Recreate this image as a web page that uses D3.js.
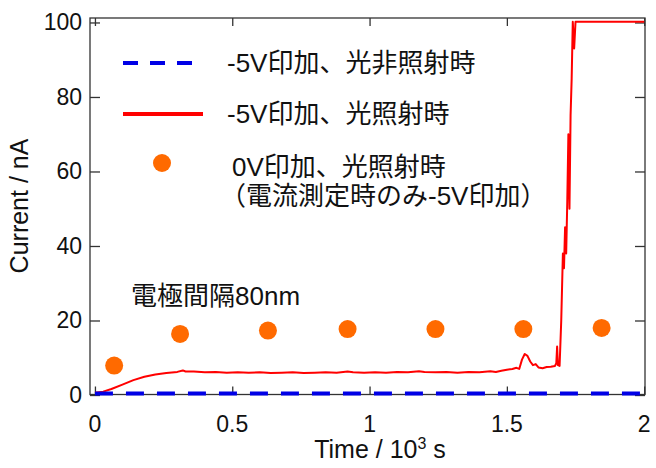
<!DOCTYPE html>
<html>
<head>
<meta charset="utf-8">
<script src="https://cdn.jsdelivr.net/npm/d3@7"></script>
<style>
  body { margin: 0; background: #fff; }
  text { font-family: "Liberation Sans", Arial, "Noto Sans CJK JP", sans-serif; fill: #111; }
</style>
</head>
<body>
<div id="chart"></div>
<script>
// time in 10^3 s, current in nA
var darkTime = [0, 2.0];
var darkCurrent = [0.4, 0.4];

var lightTime = [0.00, 0.03, 0.06, 0.10, 0.14, 0.18, 0.22, 0.26, 0.30, 0.32, 0.33, 0.36, 0.40, 0.44, 0.48,
	0.52, 0.56, 0.60, 0.64, 0.68, 0.72, 0.76, 0.80, 0.84, 0.88, 0.92, 0.94, 0.98, 1.02, 1.06, 1.10,
	1.14, 1.18, 1.20, 1.24, 1.28, 1.32, 1.36, 1.40, 1.44, 1.46, 1.48, 1.50, 1.52, 1.535, 1.545, 1.555,
	1.565, 1.575, 1.585, 1.595, 1.605, 1.615, 1.63, 1.645, 1.66, 1.675, 1.68, 1.683, 1.686, 1.692,
	1.698, 1.704, 1.708, 1.712, 1.716, 1.72, 1.724, 1.728, 1.732, 1.736, 1.74, 1.745, 1.75, 2.0];
var lightCurrent = [0.6, 0.9, 1.6, 2.8, 4.0, 4.9, 5.5, 5.9, 6.2, 6.6, 6.3, 6.3, 6.1, 6.2, 6.0,
	6.1, 6.0, 6.1, 5.9, 6.0, 6.1, 5.9, 6.0, 6.1, 6.0, 6.3, 6.1, 6.0, 6.1, 6.0, 6.2,
	6.1, 6.4, 6.2, 6.1, 6.2, 6.0, 6.2, 6.1, 6.4, 6.2, 6.5, 6.8, 7.0, 7.3, 7.0, 9.5,
	11.0, 10.5, 9.0, 8.0, 8.3, 7.4, 7.2, 7.5, 7.6, 7.8, 8.5, 13.0, 8.0, 7.8,
	20, 38, 34, 45, 38, 52, 70, 50, 75, 85, 100.2, 93, 100.2, 100.2];

var pulseTime = [0.07, 0.31, 0.63, 0.92, 1.24, 1.56, 1.845];
var pulseCurrent = [7.9, 16.4, 17.3, 17.7, 17.7, 17.7, 18.0];

var xTicks = [0, 0.5, 1, 1.5, 2];
var yTicks = [0, 20, 40, 60, 80, 100];

var legendLabels = ["-5V印加、光非照射時", "-5V印加、光照射時", "0V印加、光照射時", "（電流測定時のみ-5V印加）"];
var noteLabel = "電極間隔80nm";

var width = 656, height = 468;
var plotLeft = 90, plotRight = 645, plotTop = 18, plotBottom = 394.5;

var svg = d3.select("#chart").append("svg")
	.attr("width", width)
	.attr("height", height);

var x = d3.scaleLinear().domain([-0.018, 2.003]).range([plotLeft, plotRight]);
var y = d3.scaleLinear().domain([0, 101.2]).range([395, plotTop]);

// frame
svg.append("rect")
	.attr("x", plotLeft).attr("y", plotTop)
	.attr("width", plotRight - plotLeft).attr("height", plotBottom - plotTop)
	.attr("fill", "none").attr("stroke", "#333").attr("stroke-width", 1.3);

// axes with inward ticks
svg.append("g").attr("transform", "translate(0," + plotBottom + ")")
	.call(d3.axisBottom(x).tickValues(xTicks).tickSizeInner(-8).tickSizeOuter(0).tickFormat(""))
	.call(g => g.select(".domain").remove());
svg.append("g").attr("transform", "translate(0," + plotTop + ")")
	.call(d3.axisTop(x).tickValues(xTicks).tickSizeInner(-8).tickSizeOuter(0).tickFormat(""))
	.call(g => g.select(".domain").remove());
svg.append("g").attr("transform", "translate(" + plotLeft + ",0)")
	.call(d3.axisLeft(y).tickValues(yTicks).tickSizeInner(-10).tickSizeOuter(0).tickFormat(""))
	.call(g => g.select(".domain").remove());
svg.append("g").attr("transform", "translate(" + plotRight + ",0)")
	.call(d3.axisRight(y).tickValues(yTicks).tickSizeInner(-10).tickSizeOuter(0).tickFormat(""))
	.call(g => g.select(".domain").remove());
svg.selectAll(".tick line").attr("stroke", "#333").attr("stroke-width", 1.3);

// tick labels
svg.selectAll(".xlab")
	.data(xTicks)
	.enter().append("text")
	.attr("x", d => x(d))
	.attr("y", 432)
	.attr("text-anchor", "middle")
	.style("font-size", "23px")
	.text(d => d);

svg.selectAll(".ylab")
	.data(yTicks)
	.enter().append("text")
	.attr("x", 82)
	.attr("y", d => y(d) + 8)
	.attr("text-anchor", "end")
	.style("font-size", "23px")
	.text(d => d);

// axis titles
var xt = svg.append("text")
	.attr("x", 380).attr("y", 458)
	.attr("text-anchor", "middle")
	.style("font-size", "25px");
xt.append("tspan").text("Time / 10");
xt.append("tspan").attr("dy", -9).style("font-size", "16px").text("3");
xt.append("tspan").attr("dy", 9).text(" s");

svg.append("text")
	.attr("transform", "translate(28,206) rotate(-90)")
	.attr("text-anchor", "middle")
	.style("font-size", "25px")
	.text("Current / nA");

// data
var line = d3.line().x(d => x(d[0])).y(d => y(d[1]));

svg.append("path")
	.datum(lightTime.map((t, i) => [t, lightCurrent[i]]))
	.attr("d", line)
	.attr("fill", "none")
	.attr("stroke", "#ff0000")
	.attr("stroke-width", 2)
	.attr("stroke-linejoin", "round");

svg.append("path")
	.datum(darkTime.map((t, i) => [t, darkCurrent[i]]))
	.attr("d", line)
	.attr("fill", "none")
	.attr("stroke", "#0000e6")
	.attr("stroke-width", 4)
	.attr("stroke-dasharray", "18,13");

svg.selectAll(".pulse")
	.data(pulseTime.map((t, i) => [t, pulseCurrent[i]]))
	.enter().append("circle")
	.attr("cx", d => x(d[0]))
	.attr("cy", d => y(d[1]))
	.attr("r", 9)
	.attr("fill", "#ff6a00");

// legend
svg.append("line")
	.attr("x1", 123).attr("x2", 204).attr("y1", 63).attr("y2", 63)
	.attr("stroke", "#0000e6").attr("stroke-width", 4)
	.attr("stroke-dasharray", "15,12");
svg.append("line")
	.attr("x1", 123).attr("x2", 203).attr("y1", 114).attr("y2", 114)
	.attr("stroke", "#ff0000").attr("stroke-width", 4);
svg.append("circle")
	.attr("cx", 162).attr("cy", 163).attr("r", 9)
	.attr("fill", "#ff6a00");

var legendPos = [[227, 72], [227, 123], [232, 176], [220, 205]];
svg.selectAll(".leg")
	.data(legendLabels)
	.enter().append("text")
	.attr("x", (d, i) => legendPos[i][0])
	.attr("y", (d, i) => legendPos[i][1])
	.style("font-size", "26px")
	.text(d => d);

svg.append("text")
	.attr("x", 131).attr("y", 305)
	.style("font-size", "26px")
	.text(noteLabel);
</script>
</body>
</html>
